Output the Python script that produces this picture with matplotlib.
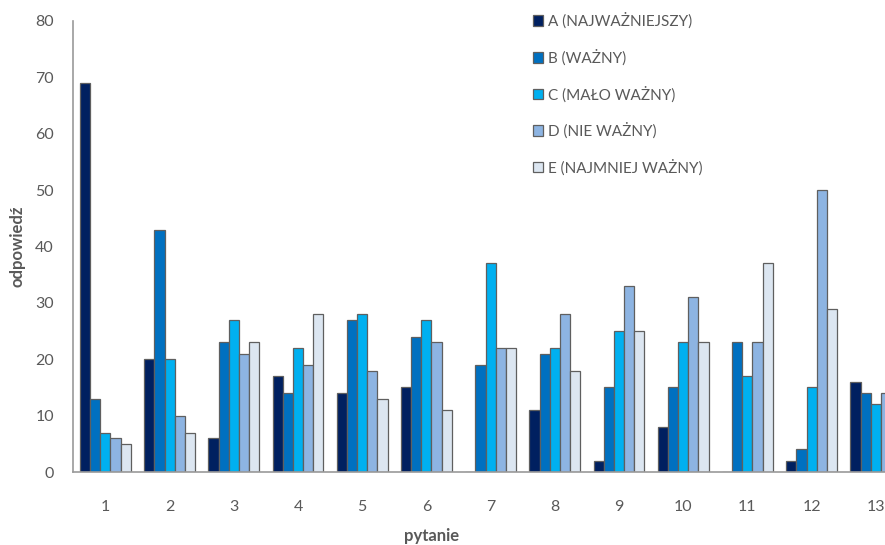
import numpy as np
import matplotlib as mpl
mpl.use('Agg')
import matplotlib.pyplot as plt

# answers per question, one list per importance level
questions = ['1', '2', '3', '4', '5', '6', '7', '8', '9', '10', '11', '12', '13']
series_names = ['A (NAJWAŻNIEJSZY)', 'B (WAŻNY)', 'C (MAŁO WAŻNY)',
                'D (NIE WAŻNY)', 'E (NAJMNIEJ WAŻNY)']
vals_a = [69, 20, 6, 17, 14, 15, 0, 11, 2, 8, 0, 2, 16]
vals_b = [13, 43, 23, 14, 27, 24, 19, 21, 15, 15, 23, 4, 14]
vals_c = [7, 20, 27, 22, 28, 27, 37, 22, 25, 23, 17, 15, 12]
vals_d = [6, 10, 21, 19, 18, 23, 22, 28, 33, 31, 23, 50, 14]
vals_e = [5, 7, 23, 28, 13, 11, 22, 18, 25, 23, 37, 29, 13]
colors = ['#002060', '#0070C0', '#00B0F0', '#8DB4E2', '#DCE6F1']

plt.rcParams['font.family'] = ['Lato', 'DejaVu Sans']
grey = '#595959'

fig = plt.figure(figsize=(8.85, 5.45), dpi=100)
W, H = 885.0, 545.0
ax = fig.add_axes([73.3 / W, (H - 472) / H, 834.6 / W, (472 - 21) / H])

x = np.arange(1, len(questions) + 1)
bw = 0.158
all_vals = [vals_a, vals_b, vals_c, vals_d, vals_e]
for i, (vals, col, name) in enumerate(zip(all_vals, colors, series_names)):
    ax.bar(x + (i - 2) * bw, vals, width=bw, color=col, edgecolor='#5f5f5f',
           linewidth=0.9, label=name)

ax.set_xlim(0.5, 13.5)
ax.set_ylim(0, 80)
ax.set_yticks(np.arange(0, 81, 10))
ax.set_xticks(x)
ax.set_xticklabels(questions)
ax.tick_params(axis='both', length=0, labelsize=11.5, labelcolor=grey)
ax.tick_params(axis='y', pad=14)
ax.tick_params(axis='x', pad=20)
for side in ['top', 'right']:
    ax.spines[side].set_visible(False)
for side in ['left', 'bottom']:
    ax.spines[side].set_color('#9a9a9a')
    ax.spines[side].set_linewidth(1.2)

ax.set_ylabel('odpowiedź', fontsize=12, color=grey, fontweight='bold')
ax.yaxis.set_label_coords(-48 / 834.6, 0.5)
ax.set_xlabel('pytanie', fontsize=12, color=grey, fontweight='bold')
ax.xaxis.set_label_coords((432 - 73.3) / 834.6, -56 / 451.0)

leg = fig.legend(loc='upper left', bbox_to_anchor=(519 / W, 1 + 1 / H),
                 frameon=False, fontsize=11, labelcolor=grey,
                 handlelength=0.7, handleheight=0.7, handletextpad=0.3,
                 labelspacing=1.33)

fig.savefig('out.png', dpi=100)
plt.close(fig)
